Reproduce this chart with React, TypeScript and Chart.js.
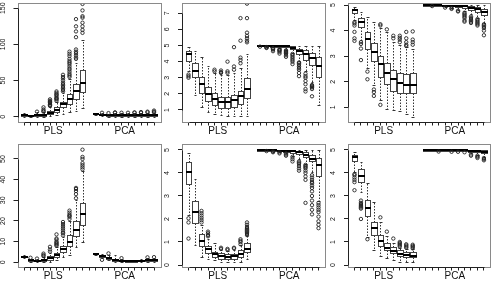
import React, { useEffect, useRef } from 'react';
import { Chart, registerables } from 'chart.js';
Chart.register(...registerables);

// ---------- data ----------
const xTicks = [1, 2, 3, 4, 5, 6, 7, 8, 9, 10, 11, 12, 13, 14, 15, 16, 17, 18, 19, 20, 21];
const plsPositions = [1, 2, 3, 4, 5, 6, 7, 8, 9, 10];
const pcaPositions = [12, 13, 14, 15, 16, 17, 18, 19, 20, 21];
const groupLabels = ['PLS', 'PCA'];
const groupCenters = [5.5, 16.5];

// each box: [lower whisker, Q1, median, Q3, upper whisker]
const p1Ticks = [0, 50, 100, 150];
const p1Pls = [
  [0, 1.5, 2.5, 3.5, 5], [0, 0.5, 1, 1.5, 3], [0, 1, 2, 3.5, 6], [0, 1.5, 2.5, 4, 6], [0.5, 3.7, 5, 8, 13],
  [2, 6.5, 9, 13, 20], [4, 13, 17, 21, 33], [6, 17, 24, 31, 52], [8, 25, 35, 45, 75], [12, 34, 47, 64, 106],
];
const p1PlsOut = [
  [], [], [7], [7, 8, 10, 13], [15, 16, 17, 19, 20, 21, 22, 24], [22, 24, 25, 26, 28, 30, 31, 33, 35],
  [35, 37, 39, 41, 43, 45, 47, 50, 53, 55, 58], [55, 57, 59, 62, 65, 67, 70, 73, 75, 77, 80, 84, 87, 90],
  [80, 82, 85, 88, 90, 93, 110, 118, 125, 135], [116, 120, 125, 130, 137, 139, 147, 156],
];
const p1Pca = [
  [3, 3.5, 4, 4.3, 4.8], [0.5, 1.8, 2.5, 3, 4.5], [0.3, 1.5, 2, 2.5, 4], [0.3, 1.3, 2, 2.8, 4.5], [0.3, 1.3, 2, 2.7, 4.5],
  [0.3, 1.3, 2, 2.7, 4.5], [0.3, 1.3, 2, 2.8, 4.6], [0.3, 1.3, 2, 2.8, 4.6], [0.3, 1.4, 2.1, 2.9, 4.8], [0.3, 1.4, 2.1, 3, 5],
];
const p1PcaOut = [[], [5.5], [5], [5.5, 6], [5.5], [5.5], [5.5, 6], [5.5, 6.5], [6, 7], [6, 7, 8.5]];

const p2Ticks = [1, 2, 3, 4, 5, 6, 7];
const p2Pls = [
  [3.4, 4.05, 4.5, 4.65, 4.9], [1.95, 3.05, 3.45, 3.9, 4.65], [1.2, 2.05, 2.6, 3.05, 4.3], [0.9, 1.55, 2.0, 2.4, 3.75],
  [0.75, 1.3, 1.7, 2.05, 3.3], [0.7, 1.15, 1.5, 1.8, 3.2], [0.6, 1.15, 1.5, 1.8, 3.2], [0.6, 1.2, 1.6, 1.9, 3.3],
  [0.6, 1.4, 1.85, 2.2, 3.6], [0.6, 1.75, 2.3, 3.0, 4.45],
];
const p2PlsOut = [
  [3.0, 3.1, 3.2], [], [], [], [3.4, 3.5], [3.3, 3.35, 3.45], [3.3, 3.4, 4.0], [3.5, 3.7, 4.9],
  [3.9, 4.1, 4.25, 5.3, 6.7], [5.2, 5.3, 5.45, 5.6, 5.8, 6.7, 7.6],
];
const p2Pca = [
  [4.97, 4.98, 5.0, 5.0, 5.0], [4.92, 4.96, 4.99, 5.0, 5.0], [4.88, 4.94, 4.98, 5.0, 5.0], [4.82, 4.92, 4.97, 5.0, 5.0],
  [4.75, 4.88, 4.95, 4.99, 5.0], [4.55, 4.78, 4.87, 4.95, 5.0], [4.05, 4.48, 4.68, 4.78, 5.0], [3.4, 4.1, 4.5, 4.73, 5.0],
  [2.75, 3.8, 4.2, 4.52, 5.0], [1.3, 3.05, 3.75, 4.27, 5.0],
];
const p2PcaOut = [
  [4.93], [4.85, 4.88, 4.9], [4.65, 4.75, 4.8, 4.83], [4.5, 4.6, 4.68, 4.72, 4.76], [4.3, 4.4, 4.5, 4.55, 4.6, 4.65, 4.7],
  [3.85, 4.0, 4.1, 4.2, 4.3, 4.4, 4.48], [3.1, 3.3, 3.5, 3.6, 3.7, 3.8, 3.9, 3.95], [2.15, 2.3, 2.6, 2.8, 3.0, 3.1, 3.25],
  [1.85, 2.3, 2.4, 2.45, 2.5, 2.55], [],
];

const p3Ticks = [1, 2, 3, 4, 5];
const p3Pls = [
  [4.42, 4.68, 4.8, 4.85, 4.93], [3.65, 4.15, 4.35, 4.48, 4.74], [2.55, 3.3, 3.66, 3.96, 4.55], [1.87, 2.8, 3.15, 3.53, 4.35],
  [1.3, 2.2, 2.7, 3.0, 4.1], [0.92, 1.9, 2.35, 2.72, 3.95], [0.9, 1.65, 2.1, 2.46, 3.55], [0.85, 1.55, 1.95, 2.36, 3.45],
  [0.75, 1.55, 1.88, 2.3, 3.35], [0.63, 1.55, 1.88, 2.33, 3.3],
];
const p3PlsOut = [
  [3.6, 3.7, 3.95, 4.2, 4.28, 4.33], [2.85, 3.3, 3.48, 3.55], [2.1, 2.4], [1.45, 1.6, 1.7], [1.1, 4.2, 4.25], [4.05],
  [3.7, 3.8], [3.55, 3.65, 3.72, 3.8], [3.4, 3.45, 3.55, 3.7, 3.95], [3.45, 3.55, 3.65, 3.97],
];
const p3Pca = [
  [4.97, 4.98, 5.0, 5.0, 5.0], [4.97, 4.98, 5.0, 5.0, 5.0], [4.95, 4.97, 4.99, 5.0, 5.0], [4.92, 4.96, 4.98, 5.0, 5.0],
  [4.9, 4.95, 4.98, 5.0, 5.0], [4.82, 4.92, 4.97, 5.0, 5.0], [4.78, 4.88, 4.95, 4.99, 5.0], [4.65, 4.82, 4.9, 4.97, 5.0],
  [4.5, 4.72, 4.83, 4.92, 5.0], [4.3, 4.6, 4.73, 4.84, 5.0],
];
const p3PcaOut = [
  [], [4.96], [], [4.9], [4.85, 4.88], [4.75, 4.78], [4.35, 4.4, 4.5, 4.55, 4.6, 4.65, 4.7],
  [4.3, 4.35, 4.4, 4.45, 4.5, 4.55], [4.2, 4.25, 4.3, 4.35, 4.4, 4.45], [3.82, 4.0, 4.1, 4.15, 4.2, 4.25],
];

const p4Ticks = [0, 10, 20, 30, 40, 50];
const p4Pls = [
  [2.0, 2.4, 2.8, 3.1, 3.5], [0.2, 0.8, 1.0, 1.2, 1.5], [0.1, 0.5, 0.8, 1.1, 1.5], [0.1, 0.6, 1.2, 1.8, 2.6],
  [0.2, 1.3, 2.1, 3.0, 4.5], [1.0, 2.8, 3.7, 4.7, 7.3], [2.5, 5.0, 6.2, 8.0, 12.3], [3.5, 8.0, 10.0, 13.0, 20.0],
  [7.2, 12.8, 15.5, 20.0, 30.0], [10.0, 18.0, 23.5, 28.5, 44.0],
];
const p4PlsOut = [
  [], [2.2], [1.8], [3.0, 3.5, 4.2], [5.2, 6.2, 7.5], [8, 8.5, 9, 9.5, 10, 11, 11.5, 13.5],
  [13, 14, 14.5, 15.5, 16.5, 17.5, 18.5, 19.5], [21, 22, 22.5, 23, 24, 25], [31, 33, 34.5, 35.5, 36],
  [45, 46, 47, 48, 50, 51, 54.5],
];
const p4Pca = [
  [3.4, 3.8, 4.1, 4.4, 4.7], [2.0, 2.4, 2.9, 3.4, 3.9], [1.0, 1.8, 2.3, 2.8, 3.4], [0.2, 0.8, 1.2, 1.8, 3.4],
  [0.1, 0.5, 0.8, 1.1, 1.6], [0.05, 0.3, 0.5, 0.7, 1.0], [0.05, 0.3, 0.5, 0.8, 1.2], [0.05, 0.4, 0.7, 1.0, 1.5],
  [0.05, 0.5, 0.9, 1.3, 2.0], [0.05, 0.5, 0.9, 1.3, 2.0],
];
const p4PcaOut = [[], [1.2], [4.3], [], [2.0], [], [], [], [2.4], [2.5]];

const p5Ticks = [0, 1, 2, 3, 4, 5];
const p5Pls = [
  [2.17, 3.5, 4.06, 4.49, 4.86], [0.87, 1.84, 2.3, 2.78, 3.72], [0.36, 0.83, 1.06, 1.35, 1.75], [0.25, 0.51, 0.68, 0.83, 1.15],
  [0.2, 0.33, 0.47, 0.58, 0.95], [0.15, 0.26, 0.4, 0.5, 0.65], [0.15, 0.26, 0.36, 0.46, 0.6], [0.15, 0.28, 0.38, 0.48, 0.65],
  [0.15, 0.36, 0.48, 0.65, 0.85], [0.25, 0.58, 0.7, 0.94, 1.25],
];
const p5PlsOut = [
  [1.15, 1.85, 2.03], [], [1.85, 1.95, 2.05, 2.15, 2.25, 2.35], [1.25, 1.3, 1.38, 1.45], [], [0.7, 0.75], [0.65, 0.7],
  [0.72, 0.75], [0.9, 1.0, 1.05, 1.12], [1.3, 1.35, 1.4, 1.45, 1.5, 1.55, 1.6, 1.65, 1.75, 1.85],
];
const p5Pca = [
  [4.95, 4.97, 4.99, 5.0, 5.0], [4.95, 4.97, 4.99, 5.0, 5.0], [4.93, 4.95, 4.98, 5.0, 5.0], [4.9, 4.94, 4.97, 5.0, 5.0],
  [4.85, 4.92, 4.96, 5.0, 5.0], [4.75, 4.88, 4.95, 5.0, 5.0], [4.6, 4.82, 4.9, 4.97, 5.0], [4.4, 4.7, 4.8, 4.92, 5.0],
  [4.05, 4.5, 4.62, 4.8, 5.0], [2.8, 3.88, 4.33, 4.65, 5.0],
];
const p5PcaOut = [
  [], [4.95], [4.9, 4.93], [4.85, 4.9], [4.75, 4.8, 4.85], [4.5, 4.6, 4.7], [4.1, 4.2, 4.3, 4.4, 4.45, 4.5],
  [2.7, 3.7, 3.85, 4.0, 4.1, 4.2, 4.25, 4.3, 4.35],
  [2.2, 2.4, 2.6, 2.8, 3.0, 3.2, 3.35, 3.45, 3.55, 3.6, 3.7, 3.8, 3.9],
  [1.6, 1.75, 1.9, 2.1, 2.3, 2.4, 2.5, 2.6, 2.7],
];

const p6Ticks = [0, 1, 2, 3, 4, 5];
const p6Pls = [
  [4.06, 4.54, 4.7, 4.78, 4.93], [3.19, 3.62, 3.87, 4.16, 4.49], [1.2, 2.13, 2.46, 2.83, 3.55], [0.65, 1.3, 1.6, 1.88, 2.75],
  [0.4, 0.83, 1.06, 1.3, 1.85], [0.3, 0.65, 0.75, 0.94, 1.25], [0.2, 0.5, 0.6, 0.77, 0.95], [0.15, 0.4, 0.48, 0.65, 0.75],
  [0.12, 0.36, 0.42, 0.56, 0.7], [0.12, 0.36, 0.4, 0.55, 0.68],
];
const p6PlsOut = [
  [3.25, 3.6, 3.7, 3.8, 3.9, 3.95], [2.0, 2.45, 2.5, 2.55, 2.6, 2.65, 2.7, 2.8], [1.12], [], [2.07], [1.45], [1.15],
  [0.8, 0.85, 0.9, 0.95, 1.0], [0.75, 0.8, 0.85, 0.9], [0.72, 0.78, 0.83, 0.88],
];
const p6Pca = [
  [4.95, 4.97, 4.99, 5.0, 5.0], [4.95, 4.97, 4.99, 5.0, 5.0], [4.95, 4.97, 4.99, 5.0, 5.0], [4.95, 4.97, 4.99, 5.0, 5.0],
  [4.95, 4.97, 4.99, 5.0, 5.0], [4.95, 4.97, 4.99, 5.0, 5.0], [4.95, 4.97, 4.99, 5.0, 5.0], [4.85, 4.93, 4.97, 5.0, 5.0],
  [4.8, 4.9, 4.95, 5.0, 5.0], [4.7, 4.85, 4.93, 4.98, 5.0],
];
const p6PcaOut = [[], [], [4.93], [], [4.92], [4.92], [4.9], [4.75, 4.8], [4.65, 4.7, 4.75], [4.55, 4.6, 4.65]];

// ---------- layout (pixels / axis ranges) ----------
const W = 493;
const H = 281;
const X_MIN = 0;
const X_MAX = 22;
const X_TICK_H = 4;
const TICK_LEN = 4;
const LABEL_DIST = 14.5;
const BOX_W = 0.88;
const STAPLE_W = 0.44;
const FONT = "'Liberation Sans', Arial, Helvetica, sans-serif";

const panels = [
  { ticks: p1Ticks, pls: p1Pls, plsOut: p1PlsOut, pca: p1Pca, pcaOut: p1PcaOut, left: 17.5, right: 160.5, top: 3, bottom: 121.5, yMin: -6.6, yMax: 157.3 },
  { ticks: p2Ticks, pls: p2Pls, plsOut: p2PlsOut, pca: p2Pca, pcaOut: p2PcaOut, left: 182, right: 325, top: 3, bottom: 121.5, yMin: 0.286, yMax: 7.64 },
  { ticks: p3Ticks, pls: p3Pls, plsOut: p3PlsOut, pca: p3Pca, pcaOut: p3PcaOut, left: 348, right: 491, top: 3, bottom: 121.5, yMin: 0.45, yMax: 5.08 },
  { ticks: p4Ticks, pls: p4Pls, plsOut: p4PlsOut, pca: p4Pca, pcaOut: p4PcaOut, left: 17.5, right: 160.5, top: 143.5, bottom: 266.5, yMin: -2.03, yMax: 57.5 },
  { ticks: p5Ticks, pls: p5Pls, plsOut: p5PlsOut, pca: p5Pca, pcaOut: p5PcaOut, left: 182, right: 325, top: 143.5, bottom: 266.5, yMin: -0.065, yMax: 5.28 },
  { ticks: p6Ticks, pls: p6Pls, plsOut: p6PlsOut, pca: p6Pca, pcaOut: p6PcaOut, left: 348, right: 491, top: 143.5, bottom: 266.5, yMin: -0.065, yMax: 5.28 },
];

type Box = { pos: number; s: number[] };

const snap = (v: number) => Math.round(v) + 0.5;

function boxPlugin(boxes: Box[]) {
  return {
    id: 'boxes',
    beforeDatasetsDraw(chart: any) {
      const { ctx, scales } = chart;
      const x = scales.x;
      const y = scales.y;
      ctx.save();
      for (const b of boxes) {
        const [lo, q1, med, q3, hi] = b.s;
        const cx = snap(x.getPixelForValue(b.pos));
        const x0 = snap(x.getPixelForValue(b.pos - BOX_W / 2));
        const x1 = snap(x.getPixelForValue(b.pos + BOX_W / 2));
        const s0 = snap(x.getPixelForValue(b.pos - STAPLE_W / 2));
        const s1 = snap(x.getPixelForValue(b.pos + STAPLE_W / 2));
        const yLo = snap(y.getPixelForValue(lo));
        const yQ1 = snap(y.getPixelForValue(q1));
        const yMed = y.getPixelForValue(med);
        const yQ3 = snap(y.getPixelForValue(q3));
        const yHi = snap(y.getPixelForValue(hi));
        ctx.lineWidth = 1;
        ctx.strokeStyle = '#333';
        ctx.setLineDash([1.5, 1.5]);
        ctx.beginPath();
        ctx.moveTo(cx, yQ3);
        ctx.lineTo(cx, yHi);
        ctx.moveTo(cx, yQ1);
        ctx.lineTo(cx, yLo);
        ctx.stroke();
        ctx.setLineDash([]);
        ctx.beginPath();
        ctx.moveTo(s0, yHi);
        ctx.lineTo(s1, yHi);
        ctx.moveTo(s0, yLo);
        ctx.lineTo(s1, yLo);
        ctx.stroke();
        ctx.strokeStyle = '#444';
        ctx.strokeRect(x0, yQ3, x1 - x0, yQ1 - yQ3);
        ctx.fillStyle = '#000';
        ctx.fillRect(x0 - 0.5, Math.round(yMed - 1), x1 - x0 + 1, 2);
      }
      ctx.restore();
    },
  };
}

function framePlugin(ticks: number[]) {
  return {
    id: 'frame',
    afterDraw(chart: any) {
      const { ctx, chartArea, scales } = chart;
      const x = scales.x;
      const y = scales.y;
      const l = snap(chartArea.left);
      const r = snap(chartArea.right);
      const t = snap(chartArea.top);
      const b = snap(chartArea.bottom);
      ctx.save();
      ctx.lineWidth = 1;
      ctx.strokeStyle = '#8a8a8a';
      ctx.strokeRect(l, t, r - l, b - t);
      ctx.strokeStyle = '#222';
      ctx.beginPath();
      ctx.moveTo(snap(x.getPixelForValue(xTicks[0])), b);
      ctx.lineTo(snap(x.getPixelForValue(xTicks[xTicks.length - 1])), b);
      ctx.moveTo(l, snap(y.getPixelForValue(ticks[0])));
      ctx.lineTo(l, snap(y.getPixelForValue(ticks[ticks.length - 1])));
      ctx.stroke();
      ctx.restore();
    },
  };
}

function Panel({ p }: { p: any }) {
  const ref = useRef<HTMLCanvasElement>(null);
  useEffect(() => {
    const canvas = ref.current!;
    const m = document.createElement('canvas').getContext('2d')!;
    m.font = `7px ${FONT}`;
    const widest = Math.max(...p.ticks.map((t: number) => m.measureText(String(t)).width));
    const yPad = LABEL_DIST - TICK_LEN - widest / 2;
    const labH = H - p.bottom - X_TICK_H;

    const boxes: Box[] = [
      ...p.pls.map((s: number[], i: number) => ({ pos: plsPositions[i], s })),
      ...p.pca.map((s: number[], i: number) => ({ pos: pcaPositions[i], s })),
    ];
    const pts: { x: number; y: number }[] = [];
    p.plsOut.forEach((arr: number[], i: number) => arr.forEach((v) => pts.push({ x: plsPositions[i], y: v })));
    p.pcaOut.forEach((arr: number[], i: number) => arr.forEach((v) => pts.push({ x: pcaPositions[i], y: v })));

    const chart = new Chart(canvas, {
      type: 'scatter',
      data: {
        datasets: [
          {
            data: pts,
            pointRadius: 1.7,
            pointHoverRadius: 1.7,
            pointStyle: 'circle',
            pointBorderWidth: 0.9,
            borderColor: '#222',
            backgroundColor: 'rgba(0,0,0,0)',
          },
        ],
      },
      options: {
        responsive: false,
        animation: false,
        devicePixelRatio: 1,
        events: [],
        layout: {
          padding: { left: 0, right: W - p.right, top: p.top, bottom: 0 },
        },
        plugins: { legend: { display: false }, tooltip: { enabled: false } },
        scales: {
          x: {
            type: 'linear',
            position: 'bottom',
            min: X_MIN,
            max: X_MAX,
            grid: { display: true, drawOnChartArea: false, drawTicks: true, tickLength: TICK_LEN, color: '#222', lineWidth: 1 },
            border: { display: false },
            ticks: { display: false, autoSkip: false },
            afterBuildTicks: (s: any) => {
              s.ticks = xTicks.map((v) => ({ value: v }));
            },
            afterFit: (s: any) => {
              s.height = X_TICK_H;
              s.paddingLeft = 0;
              s.paddingRight = 0;
            },
          },
          x2: {
            type: 'linear',
            position: 'bottom',
            min: X_MIN,
            max: X_MAX,
            grid: { display: false, drawTicks: false, tickLength: 0 },
            border: { display: false },
            ticks: {
              display: true,
              autoSkip: false,
              padding: 0,
              minRotation: 0,
              maxRotation: 0,
              color: '#111',
              font: { family: FONT, size: 10 },
              callback: (_v: any, i: number) => groupLabels[i],
            },
            afterBuildTicks: (s: any) => {
              s.ticks = groupCenters.map((v) => ({ value: v }));
            },
            afterFit: (s: any) => {
              s.height = labH;
              s.paddingLeft = 0;
              s.paddingRight = 0;
            },
          },
          y: {
            type: 'linear',
            position: 'left',
            min: p.yMin,
            max: p.yMax,
            bounds: 'data',
            grid: { display: true, drawOnChartArea: false, drawTicks: true, tickLength: TICK_LEN, color: '#222', lineWidth: 1 },
            border: { display: false },
            ticks: {
              autoSkip: false,
              minRotation: 90,
              maxRotation: 90,
              crossAlign: 'center',
              padding: yPad,
              color: '#111',
              font: { family: FONT, size: 7 },
              callback: (v: any) => String(v),
            },
            afterBuildTicks: (s: any) => {
              s.ticks = p.ticks.map((v: number) => ({ value: v }));
            },
            afterFit: (s: any) => {
              s.width = p.left;
              s.paddingTop = 0;
              s.paddingBottom = 0;
            },
          },
        },
      } as any,
      plugins: [boxPlugin(boxes), framePlugin(p.ticks)],
    });
    return () => chart.destroy();
  }, [p]);
  return (
    <canvas
      ref={ref}
      width={W}
      height={H}
      style={{ position: 'absolute', left: 0, top: 0, width: W, height: H }}
    />
  );
}

export default function App() {
  return (
    <div style={{ position: 'absolute', left: 0, top: 0, width: W, height: H, background: '#fff', overflow: 'hidden' }}>
      {panels.map((p, i) => (
        <Panel key={i} p={p} />
      ))}
    </div>
  );
}
